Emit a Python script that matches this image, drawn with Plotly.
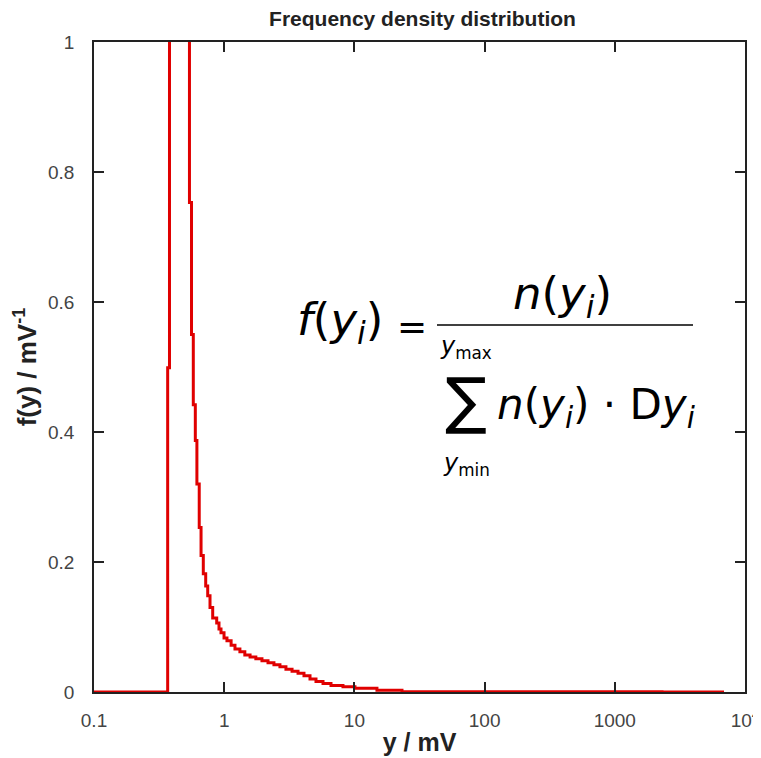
import plotly.graph_objects as go

# Bin edges (mV) and frequency density values (1/mV)
bin_edges = [0.1, 0.368, 0.38, 0.541, 0.561, 0.579, 0.60, 0.617, 0.643, 0.664,
             0.691, 0.721, 0.747, 0.778, 0.816, 0.876, 0.912, 0.945, 0.997, 1.05,
             1.13, 1.21, 1.32, 1.44, 1.58, 1.75, 1.95, 2.17, 2.41, 2.68,
             2.98, 3.32, 3.69, 4.10, 4.56, 5.07, 5.74, 6.61, 8.17, 10.1,
             14.9, 23.2, 30.3, 275, 2305, 6900]
density = [0.0, 0.499, 2.5, 0.753, 0.550, 0.442, 0.387, 0.320, 0.253, 0.210,
           0.182, 0.163, 0.148, 0.130, 0.114, 0.106, 0.097, 0.091, 0.083, 0.079,
           0.072, 0.066, 0.062, 0.057, 0.054, 0.051, 0.048, 0.045, 0.042, 0.039,
           0.035, 0.032, 0.029, 0.025, 0.020, 0.016, 0.013, 0.010, 0.008, 0.0057,
           0.0026, 0.0005, 0.0003, 0.0002, 0.0001]

x_tickvals = [0.1, 1, 10, 100, 1000, 10000]
x_ticktext = ["0.1", "1", "10", "100", "1000", "10<sup>4</sup>"]
y_tickvals = [0, 0.2, 0.4, 0.6, 0.8, 1]
y_ticktext = ["0", "0.2", "0.4", "0.6", "0.8", "1"]

W, H = 761, 758
OFF = 8  # page body margin
ML, MR, MT, MB = 94 - OFF, W - 745 + OFF, 42 - OFF, H - 692 + OFF
PW = W - ML - MR
PH = H - MT - MB


def px(xs):
    return (xs - OFF - ML) / PW


def py(ys):
    return (H - MB - (ys - OFF)) / PH


fig = go.Figure()
fig.add_trace(go.Scatter(
    x=bin_edges,
    y=density + [density[-1]],
    mode="lines",
    line=dict(color="#e00000", width=3, shape="hv"),
    showlegend=False,
    hoverinfo="skip",
))

sans = "Liberation Sans, Arial, sans-serif"
tickfont = dict(family=sans, size=19, color="#444444")
fig.update_layout(
    width=W, height=H,
    margin=dict(l=ML, r=MR, t=MT, b=MB, autoexpand=False),
    paper_bgcolor="white", plot_bgcolor="white",
    title=dict(text="<b>Frequency density distribution</b>",
               font=dict(family=sans, size=21, color="#222222"),
               x=((267 + 578) / 2 - OFF) / W, xanchor="center",
               y=1 - (19 - OFF) / H, yanchor="middle"),
    xaxis=dict(type="log", range=[-1, 4], tickvals=x_tickvals, ticktext=x_ticktext,
               ticks="inside", ticklen=10, tickcolor="#222222", tickwidth=1.5,
               showline=True, linecolor="#222222", linewidth=1.5, mirror="ticks",
               showgrid=False, zeroline=False, tickfont=tickfont, ticklabelstandoff=10,
               automargin=False,
               title=dict(text="<b>y / mV</b>", standoff=4,
                          font=dict(family=sans, size=25, color="#222222"))),
    yaxis=dict(range=[0, 1], tickvals=y_tickvals, ticktext=y_ticktext,
               ticks="inside", ticklen=10, tickcolor="#222222", tickwidth=1.5,
               showline=True, linecolor="#222222", linewidth=1.5, mirror="ticks",
               showgrid=False, zeroline=False, tickfont=tickfont, ticklabelstandoff=14,
               automargin=False,
               title=dict(text="<b>f(y) / mV<sup>-1</sup></b>", standoff=4,
                          font=dict(family=sans, size=26, color="#222222"))),
)

ffont = "DejaVu Sans, Verdana, sans-serif"


def ann(text, xs, ys, size, xanchor="center"):
    fig.add_annotation(text=text, x=px(xs), y=py(ys), xref="paper", yref="paper",
                       xanchor=xanchor, yanchor="middle", showarrow=False,
                       font=dict(family=ffont, size=size, color="black"))


ann("<i>f</i>(<i>y</i><sub><i>i</i></sub>)", 340, 322, 45)
ann("=", 412, 326, 36)
ann("<i>n</i>(<i>y</i><sub><i>i</i></sub>)", 562, 296, 45)
fig.add_shape(type="line", xref="paper", yref="paper",
              x0=px(437), x1=px(693), y0=py(325), y1=py(325),
              line=dict(color="black", width=1.5))
ann("<i>y</i><sub>max</sub>", 466, 348, 24)
ann("∑", 466, 400, 62)
ann("<i>n</i>(<i>y</i><sub><i>i</i></sub>) · D<i>y</i><sub><i>i</i></sub>", 495, 408, 42, xanchor="left")
ann("<i>y</i><sub>min</sub>", 466, 464, 24)

fig.write_html("out.html")
